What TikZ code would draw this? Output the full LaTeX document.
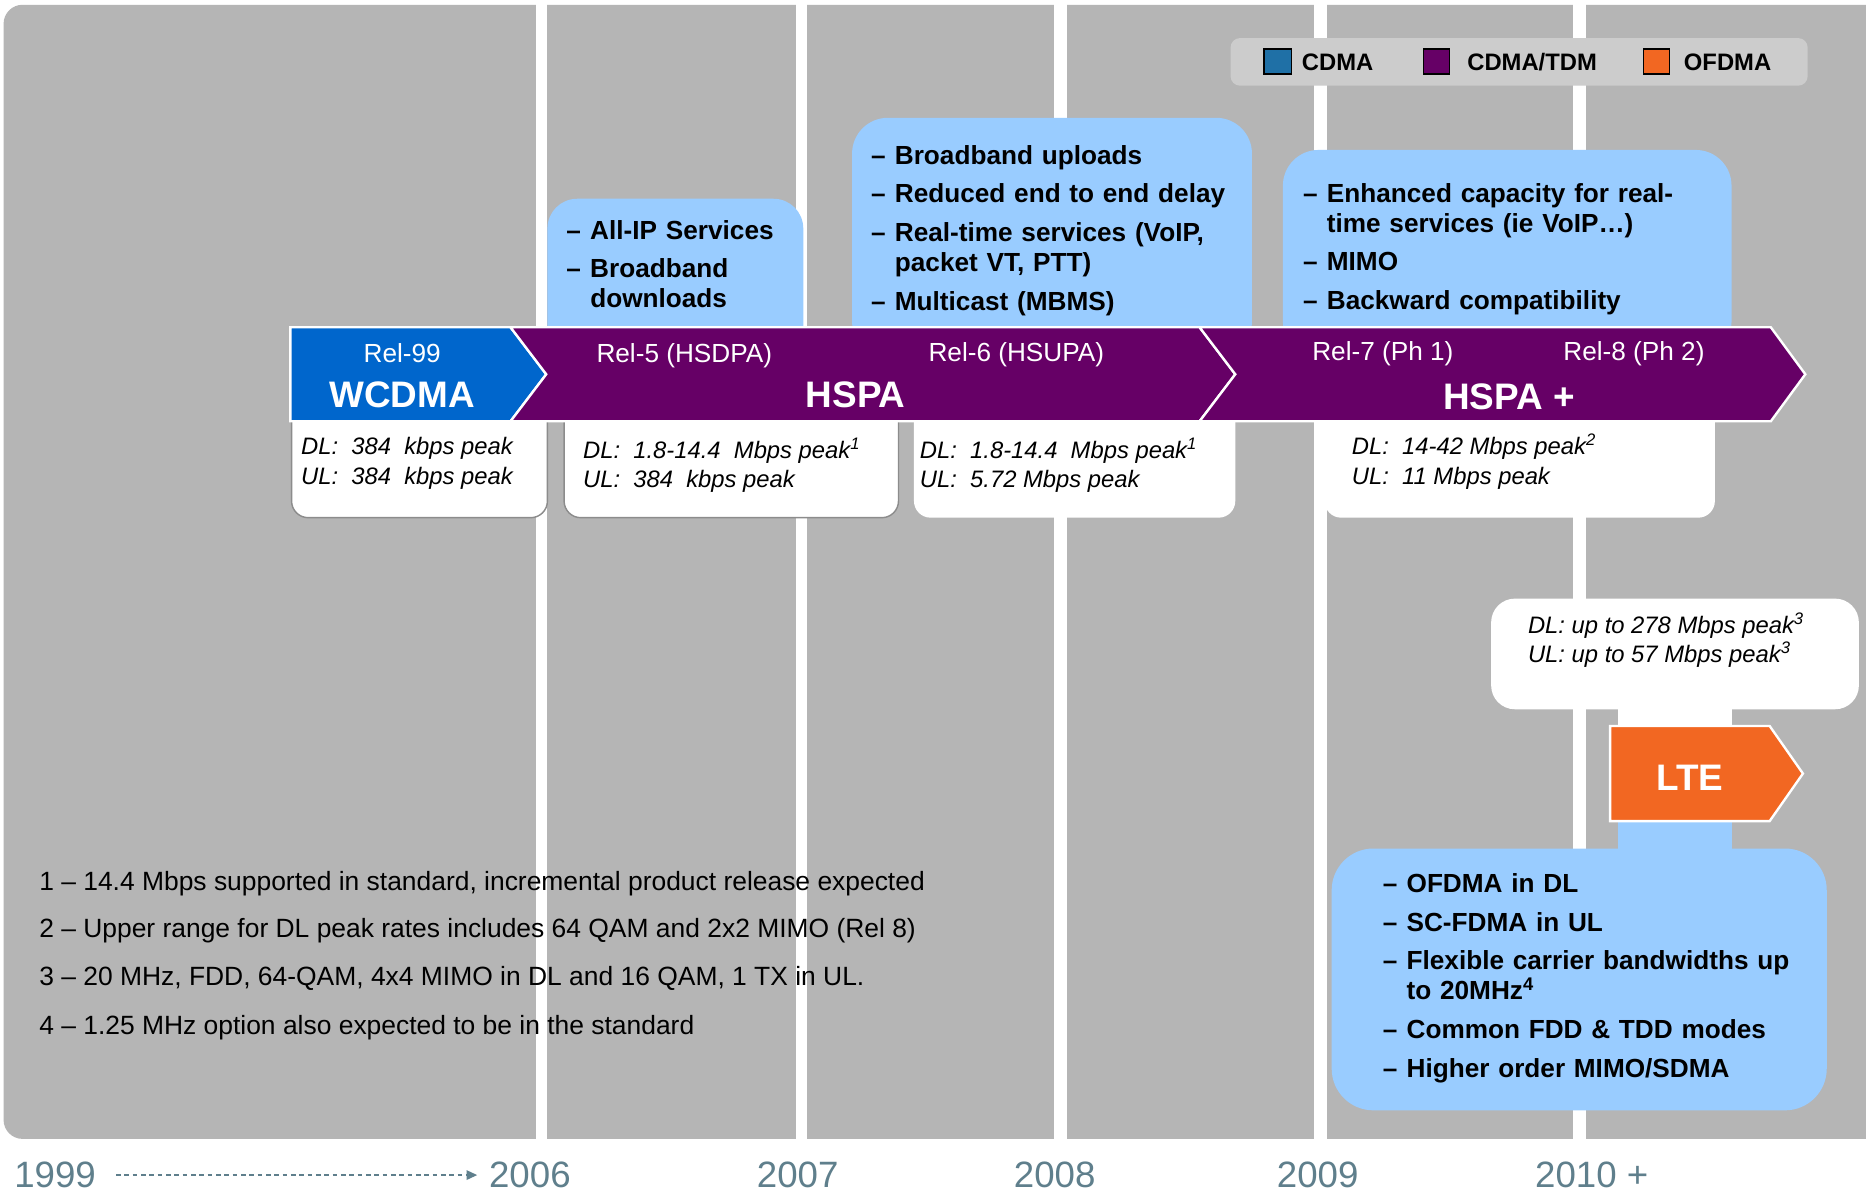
\documentclass[tikz,border=0pt]{standalone}
\usepackage{fontspec}
\setmainfont{Liberation Sans}
\usetikzlibrary{arrows.meta}
\definecolor{bggrey}{HTML}{B5B5B5}
\definecolor{leggrey}{HTML}{CCCCCC}
\definecolor{ltblue}{HTML}{99CCFF}
\definecolor{wblue}{HTML}{0066CC}
\definecolor{hpurple}{HTML}{660066}
\definecolor{lteorange}{HTML}{F26722}
\definecolor{cdmablue}{HTML}{1F70A6}
\definecolor{yearcol}{HTML}{5F7F8C}
\definecolor{boxline}{HTML}{8C8C8C}
\newcommand\fsz[2]{\fontsize{#1}{#2}\selectfont}
\newcommand\firstitem[1]{\hangindent=20pt\hangafter=1\noindent\makebox[20pt][l]{–}#1\par}
\newcommand\nextitem[1]{\vspace{7.5pt}\firstitem{#1}}
\begin{document}
\begin{tikzpicture}[x=1pt,y=-1pt,
  every node/.style={inner sep=0pt, outer sep=0pt},
  bul/.style={text width=#1, align=left, font=\fsz{22}{25}\bfseries},
  rate/.style={align=left, font=\fsz{20}{25}\itshape},
  rel/.style={text=white, font=\fsz{22}{26}},
  big/.style={text=white, font=\fsz{31}{36}\bfseries},
  legtext/.style={font=\fsz{20}{24}\bfseries},
  foot/.style={font=\fsz{22.2}{26}},
  year/.style={text=yearcol, font=\fsz{30.8}{36}},
  swatch/.style={draw=black, line width=1.2pt}]
\useasboundingbox (0,0) rectangle (1568,1002);
\fill[white] (0,0) rectangle (1568,1002);
% grey background
\begin{scope}
\clip (0,0) rectangle (1568,1002);
\fill[bggrey, rounded corners=16pt] (3,4) rectangle (1600,957);
\end{scope}
% year separators
\foreach \a/\b in {450/460, 669/678, 886/897, 1104/1115, 1322/1333}
  \fill[white] (\a,0) rectangle (\b,957);
% legend
\fill[leggrey, rounded corners=8pt] (1034,32) rectangle (1519,72);
\path[swatch, fill=cdmablue] (1062,41) rectangle (1085,62);
\path[swatch, fill=hpurple] (1196,41) rectangle (1218,62);
\path[swatch, fill=lteorange] (1381,41) rectangle (1403,62);
\node[legtext, anchor=base west] (lcdma) at (1094,59) {CDMA};
\node[legtext, anchor=base west] (ltdm) at (1233,59) {CDMA/TDM};
\node[legtext, anchor=base west] (lofdma) at (1415,59) {OFDMA};
% light blue feature boxes
\fill[ltblue, rounded corners=25pt] (460,167) rectangle (675,300);
\fill[ltblue, rounded corners=30pt] (716,99) rectangle (1052,300);
\fill[ltblue, rounded corners=30pt] (1078,126) rectangle (1455,300);
\node[bul=200pt, anchor=base west] (fa) at (476,201)
  {\firstitem{All-IP Services}\nextitem{Broadband\newline downloads}};
\node[bul=330pt, anchor=base west] (fb) at (732,138)
  {\firstitem{Broadband uploads}\nextitem{Reduced end to end delay}\nextitem{Real-time services (VoIP,\newline packet VT, PTT)}\nextitem{Multicast (MBMS)}};
\node[bul=360pt, anchor=base west] (fc) at (1095,170)
  {\firstitem{Enhanced capacity for real-\newline time services (ie VoIP…)}\nextitem{MIMO}\nextitem{Backward compatibility}};
% rate boxes
\path[fill=white, draw=boxline, line width=1.2pt, rounded corners=14pt] (245,320) rectangle (460,435);
\path[fill=white, draw=boxline, line width=1.2pt, rounded corners=14pt] (474,320) rectangle (755,435);
\path[fill=white, rounded corners=14pt] (768,320) rectangle (1038,435);
\path[fill=white, rounded corners=14pt] (1113,320) rectangle (1441,435);
\node[rate, anchor=base west] (r1) at (253,407) {DL:\ \ 384\ \ kbps peak\\UL:\ \ 384\ \ kbps peak};
\node[rate, anchor=base west] (r2) at (490,410) {DL:\ \ 1.8-14.4\ \ Mbps peak\textsuperscript{1}\\UL:\ \ 384\ \ kbps peak};
\node[rate, anchor=base west] (r3) at (773,410) {DL:\ \ 1.8-14.4\ \ Mbps peak\textsuperscript{1}\\UL:\ \ 5.72 Mbps peak};
\node[rate, anchor=base west] (r4) at (1136,407) {DL:\ \ 14-42 Mbps peak\textsuperscript{2}\\UL:\ \ 11 Mbps peak};
% band
\path[fill=wblue, draw=white, line width=2pt] (244,275) -- (429,275) -- (459,314.5) -- (429,354) -- (244,354) -- cycle;
\path[fill=hpurple, draw=white, line width=2pt] (429,275) -- (1008,275) -- (1038,314.5) -- (1008,354) -- (429,354) -- (459,314.5) -- cycle;
\path[fill=hpurple, draw=white, line width=2pt] (1008,275) -- (1488,275) -- (1517,314.5) -- (1488,354) -- (1008,354) -- (1038,314.5) -- cycle;
\node[rel, anchor=base] (rel99) at (338,305) {Rel-99};
\node[big, anchor=base] (wcdma) at (338,342) {WCDMA};
\node[rel, anchor=base] (rel5) at (575,305) {Rel-5 (HSDPA)};
\node[rel, anchor=base] (rel6) at (854,304) {Rel-6 (HSUPA)};
\node[big, anchor=base] (hspa) at (719,342) {HSPA};
\node[rel, anchor=base] (rel7) at (1162,303) {Rel-7 (Ph 1)};
\node[rel, anchor=base] (rel8) at (1373,303) {Rel-8 (Ph 2)};
\node[big, anchor=base] (hspap) at (1268,344) {HSPA +};
% LTE
\fill[white, rounded corners=20pt] (1253,503) rectangle (1562,596);
\fill[white] (1360,590) rectangle (1455,612);
\fill[ltblue] (1360,688) rectangle (1455,720);
\fill[ltblue, rounded corners=35pt] (1119,713) rectangle (1535,933);
\path[fill=lteorange, draw=white, line width=2pt] (1353,610) -- (1487,610) -- (1515,650) -- (1487,690) -- (1353,690) -- cycle;
\node[big, anchor=base] (lte) at (1420,664) {LTE};
\node[rate, anchor=base west] (rlte) at (1284,557) {DL: up to 278 Mbps peak\textsuperscript{3}\\UL: up to 57 Mbps peak\textsuperscript{3}};
\node[bul=380pt, anchor=base west] (flte) at (1162,750)
  {\firstitem{OFDMA in DL}\nextitem{SC-FDMA in UL}\nextitem{Flexible carrier bandwidths up\newline to 20MHz\textsuperscript{4}}\nextitem{Common FDD \& TDD modes}\nextitem{Higher order MIMO/SDMA}};
% footnotes
\node[foot, anchor=base west] (f1) at (33,748) {1 – 14.4 Mbps supported in standard, incremental product release expected};
\node[foot, anchor=base west] (f2) at (33,788) {2 – Upper range for DL peak rates includes 64 QAM and 2x2 MIMO (Rel 8)};
\node[foot, anchor=base west] (f3) at (33,828) {3 – 20 MHz, FDD, 64-QAM, 4x4 MIMO in DL and 16 QAM, 1 TX in UL.};
\node[foot, anchor=base west] (f4) at (33,869) {4 – 1.25 MHz option also expected to be in the standard};
% years
\node[year, anchor=base west] (y1999) at (12,998) {1999};
\node[year, anchor=base west] (y2006) at (411,998) {2006};
\node[year, anchor=base west] (y2007) at (636,998) {2007};
\node[year, anchor=base west] (y2008) at (852,998) {2008};
\node[year, anchor=base west] (y2009) at (1073,998) {2009};
\node[year, anchor=base west] (y2010) at (1290,998) {2010 +};
\draw[yearcol, line width=1.3pt, dash pattern=on 4pt off 3pt, -{Triangle[length=9pt,width=8pt]}]
  ([xshift=17pt]y1999.east) -- ([xshift=-10pt]y2006.west);
\end{tikzpicture}
\end{document}
